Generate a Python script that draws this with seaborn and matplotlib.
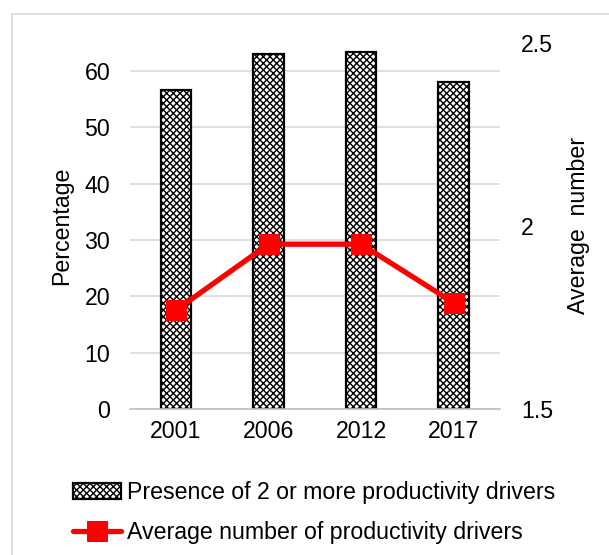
import matplotlib
matplotlib.use('Agg')
from matplotlib import pyplot as plt
from matplotlib.patches import Rectangle
import numpy as np
import pandas as pd
import seaborn as sns

years = ['2001', '2006', '2012', '2017']
presence_pct = [56.6, 63.0, 63.4, 58.0]
avg_drivers = [1.77, 1.95, 1.95, 1.79]

bar_label = 'Presence of 2 or more productivity drivers'
line_label = 'Average number of productivity drivers'

sns.set_style('white', {'text.color': 'black', 'axes.labelcolor': 'black',
                        'xtick.color': 'black', 'ytick.color': 'black'})
plt.rcParams['font.family'] = ['Liberation Sans', 'DejaVu Sans']
plt.rcParams['hatch.linewidth'] = 1.0

df = pd.DataFrame({'year': years, 'pct': presence_pct, 'avg': avg_drivers})
fs = 16.7

fig = plt.figure(figsize=(6.09, 5.55), dpi=100)
ax = fig.add_axes([0.213, 0.263, 0.608, 0.66])

sns.barplot(data=df, x='year', y='pct', color='white', width=0.33,
            edgecolor='black', linewidth=1.6, hatch='xxxxx', ax=ax,
            label=bar_label)
ax.get_legend().remove()
ax.set_ylim(0, 65)
ax.set_yticks(range(0, 61, 10))
ax.set_xlim(-0.5, 3.5)
ax.yaxis.grid(True, color='#d9d9d9', linewidth=1.2)
ax.set_axisbelow(True)
for s in ['top', 'left', 'right']:
    ax.spines[s].set_visible(False)
ax.spines['bottom'].set_color('#bfbfbf')
ax.spines['bottom'].set_linewidth(1.2)
ax.tick_params(axis='y', length=0, labelsize=fs, pad=14)
ax.tick_params(axis='x', length=0, labelsize=fs, pad=8)
ax.set_xticks([-0.5, 3.5], minor=True)
ax.tick_params(axis='x', which='minor', length=6, color='#bfbfbf', width=1.2)
ax.set_xlabel('')
ax.set_ylabel('Percentage', fontsize=fs, labelpad=8)

ax2 = ax.twinx()
sns.lineplot(data=df, x='year', y='avg', color='#ff0000', linewidth=3.8,
             marker='s', markersize=15, markeredgecolor='#ff0000',
             ax=ax2, label=line_label, sort=False)
ax2.set_ylim(1.5, 2.5)
ax2.set_yticks([1.5, 2, 2.5])
ax2.set_yticklabels(['1.5', '2', '2.5'])
for s in ['top', 'left', 'right', 'bottom']:
    ax2.spines[s].set_visible(False)
ax2.tick_params(axis='y', length=0, labelsize=fs, pad=15)
ax2.set_ylabel('Average  number', fontsize=fs, labelpad=10)
ax2.set_xlabel('')
ax2.get_legend().remove()

h1, l1 = ax.get_legend_handles_labels()
h2, l2 = ax2.get_legend_handles_labels()
fig.legend(h1 + h2, l1 + l2, loc='upper left', bbox_to_anchor=(0.104, 0.15),
           frameon=False, fontsize=fs, handlelength=2.1, handletextpad=0.25,
           labelspacing=0.75, borderaxespad=0)

fig.patches.append(Rectangle((12 / 609, -0.01), 1.0, 1 - 14 / 555 + 0.01,
                             transform=fig.transFigure, fill=False,
                             edgecolor='#d9d9d9', linewidth=1.2))

fig.savefig('out.png', dpi=100)
